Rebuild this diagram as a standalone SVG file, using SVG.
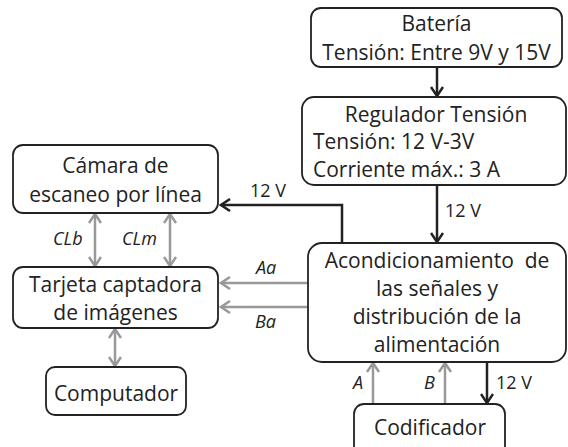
<svg xmlns="http://www.w3.org/2000/svg" width="568" height="447" viewBox="0 0 568 447">
<defs>
<style>
.box{fill:#fff;stroke:#222;stroke-width:1.8}
.t{font-family:"Open Sans","Noto Sans","Liberation Sans",sans-serif;font-size:21px;fill:#222}
.c{text-anchor:middle}
.s{font-family:"Open Sans","Noto Sans","Liberation Sans",sans-serif;font-size:18px;fill:#222}
.i{font-style:italic}
.dk{fill:none;stroke:#222;stroke-width:2.5}
.gr{fill:none;stroke:#999;stroke-width:2.5}
</style>
<marker id="ad" markerUnits="userSpaceOnUse" markerWidth="14" markerHeight="14" viewBox="-12 -7 14 14" refX="0" refY="0" orient="auto-start-reverse"><path d="M-9,-6 L0,0 L-9,6" fill="none" stroke="#222" stroke-width="2.5"/></marker>
<marker id="ag" markerUnits="userSpaceOnUse" markerWidth="14" markerHeight="14" viewBox="-12 -7 14 14" refX="0" refY="0" orient="auto-start-reverse"><path d="M-9,-6 L0,0 L-9,6" fill="none" stroke="#999" stroke-width="2.5"/></marker>
</defs>
<rect width="568" height="447" fill="#fff"/>
<g id="connectors">
<path class="dk" d="M437,67 V96" marker-end="url(#ad)"/>
<path class="dk" d="M437,185 V242" marker-end="url(#ad)"/>
<path class="dk" d="M342,243 V205 H221" marker-end="url(#ad)"/>
<path class="gr" d="M95,214 V266" marker-start="url(#ag)" marker-end="url(#ag)"/>
<path class="gr" d="M170,214 V266" marker-start="url(#ag)" marker-end="url(#ag)"/>
<path class="gr" d="M308,283 H221" marker-end="url(#ag)"/>
<path class="gr" d="M308,307 H221" marker-end="url(#ag)"/>
<path class="gr" d="M115,329 V366" marker-start="url(#ag)" marker-end="url(#ag)"/>
<path class="gr" d="M373,405 V363" marker-end="url(#ag)"/>
<path class="gr" d="M445,405 V363" marker-end="url(#ag)"/>
<path class="dk" d="M487,362 V403" marker-end="url(#ad)"/>
<text class="s" x="445" y="217">12 V</text>
<text class="s" x="250" y="197">12 V</text>
<text class="s i" x="53" y="245">CLb</text>
<text class="s i" x="122" y="245">CLm</text>
<text class="s i" x="256" y="274">Aa</text>
<text class="s i" x="255" y="328">Ba</text>
<text class="s i" x="353" y="389">A</text>
<text class="s i" x="424" y="389">B</text>
<text class="s" x="496" y="389">12 V</text>
</g>
<g id="bateria">
<rect class="box" x="311" y="8" width="251" height="59" rx="10"/>
<text class="t c" x="436.5" y="31">Batería</text>
<text class="t c" x="436.5" y="60">Tensión: Entre 9V y 15V</text>
</g>
<g id="regulador">
<rect class="box" x="302" y="97" width="264" height="88" rx="12"/>
<text class="t c" x="436" y="122">Regulador Tensión</text>
<text class="t" x="313" y="149">Tensión: 12 V-3V</text>
<text class="t" x="313" y="177">Corriente máx.: 3 A</text>
</g>
<g id="acondicionamiento">
<rect class="box" x="308" y="243" width="258" height="119" rx="14"/>
<text class="t c" x="437" y="268" xml:space="preserve">Acondicionamiento  de</text>
<text class="t c" x="437" y="296">las señales y</text>
<text class="t c" x="437" y="324">distribución de la</text>
<text class="t c" x="437" y="352">alimentación</text>
</g>
<g id="camara">
<rect class="box" x="13" y="145" width="205" height="68" rx="10"/>
<text class="t c" x="115.5" y="173">Cámara de</text>
<text class="t c" x="115.5" y="202">escaneo por línea</text>
</g>
<g id="tarjeta">
<rect class="box" x="13" y="267" width="205" height="61" rx="10"/>
<text class="t c" x="115.5" y="292">Tarjeta captadora</text>
<text class="t c" x="115.5" y="320">de imágenes</text>
</g>
<g id="computador">
<rect class="box" x="46" y="367" width="140" height="48" rx="9"/>
<text class="t c" x="116" y="401">Computador</text>
</g>
<g id="codificador">
<rect class="box" x="354" y="404" width="151" height="53" rx="10"/>
<text class="t c" x="430" y="435">Codificador</text>
</g>
</svg>
